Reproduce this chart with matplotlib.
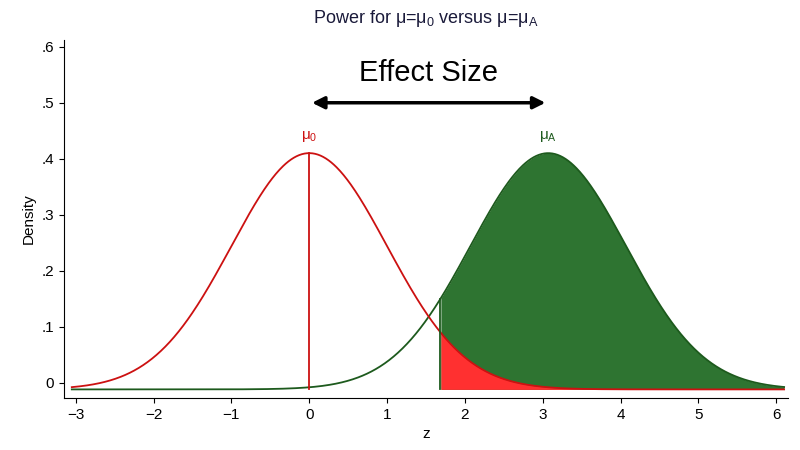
import numpy as np
import matplotlib.pyplot as plt

plt.rcParams['font.family'] = ['Liberation Sans', 'DejaVu Sans']

mu0 = 0.0
muA = 3.07
z_crit = 1.68
peak = 0.422
base = -0.012
yticks = [0, 0.1, 0.2, 0.3, 0.4, 0.5, 0.6]
ytick_labels = ["0", ".1", ".2", ".3", ".4", ".5", ".6"]
xticks = [-3, -2, -1, 0, 1, 2, 3, 4, 5, 6]

x = np.linspace(-3.05, 6.1, 800)
red = base + peak * np.exp(-(x - mu0) ** 2 / 2)
green = base + peak * np.exp(-(x - muA) ** 2 / 2)

fig, ax = plt.subplots(figsize=(8, 4.5), dpi=100)
fig.subplots_adjust(left=0.08, right=0.985, top=0.911, bottom=0.116)

m = x >= z_crit
ax.fill_between(x[m], base, green[m], color="#2e7431", lw=0)
ax.fill_between(x[m], base, red[m], color="#ff3030", lw=0)
ax.plot(x, green, color="#1d5a1d", lw=1.3)
ax.plot(x, red, color="#cc1111", lw=1.3)
ax.plot([z_crit, z_crit], [base, base + peak * np.exp(-(z_crit - muA) ** 2 / 2)], color="#1d5a1d", lw=1.3)
ax.plot([mu0, mu0], [base, base + peak], color="#cc1111", lw=1.3)

ax.annotate("", xy=(muA, 0.5), xytext=(mu0, 0.5),
            arrowprops=dict(arrowstyle="<|-|>", color="black", lw=2.5, mutation_scale=18))
ax.text((mu0 + muA) / 2, 0.553, "Effect Size", ha="center", va="center", fontsize=21)
ax.text(mu0, 0.44, r"$\mathregular{\mu_0}$", color="#cc1111", ha="center", va="center", fontsize=11)
ax.text(muA, 0.44, r"$\mathregular{\mu_A}$", color="#1d5a1d", ha="center", va="center", fontsize=11)

ax.set_title(r"Power for $\mathregular{\mu}$=$\mathregular{\mu_0}$ versus $\mathregular{\mu}$=$\mathregular{\mu_A}$",
             fontsize=13, color="#1a1a3a", pad=12)
ax.set_xlim(-3.15, 6.15)
ax.set_ylim(-0.027, 0.612)
ax.set_yticks(yticks)
ax.set_yticklabels(ytick_labels)
ax.set_xticks(xticks)
ax.set_xlabel("z", fontsize=11)
ax.set_ylabel("Density", fontsize=11)
ax.spines["top"].set_visible(False)
ax.spines["right"].set_visible(False)
ax.tick_params(labelsize=11)
fig.savefig("out.png")
